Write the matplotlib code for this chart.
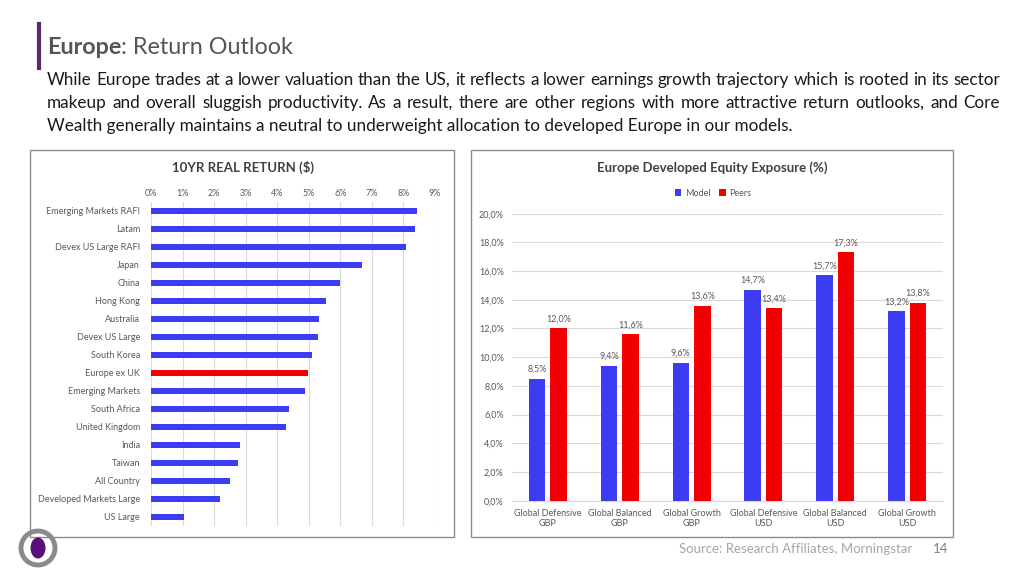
import numpy as np
import matplotlib
matplotlib.use("Agg")
import matplotlib.pyplot as plt
from matplotlib.patches import Rectangle, Ellipse
from matplotlib.lines import Line2D

# ---- data ----
regions = ["Emerging Markets RAFI", "Latam", "Devex US Large RAFI", "Japan", "China",
           "Hong Kong", "Australia", "Devex US Large", "South Korea", "Europe ex UK",
           "Emerging Markets", "South Africa", "United Kingdom", "India", "Taiwan",
           "All Country", "Developed Markets Large", "US Large"]
real_return = [8.43, 8.38, 8.08, 6.69, 5.99, 5.55, 5.32, 5.30, 5.09, 4.96,
               4.89, 4.36, 4.28, 2.81, 2.76, 2.50, 2.20, 1.05]
highlight = "Europe ex UK"

portfolios = ["Global Defensive\nGBP", "Global Balanced\nGBP", "Global Growth\nGBP",
              "Global Defensive\nUSD", "Global Balanced\nUSD", "Global Growth\nUSD"]
model = [8.5, 9.4, 9.6, 14.7, 15.7, 13.2]
peers = [12.0, 11.6, 13.6, 13.4, 17.3, 13.8]

BLUE = "#3c3cf2"
RED = "#f00000"
GREY = "#595959"
GRID = "#d9d9d9"
PURPLE = "#5a2a6e"

plt.rcParams["font.family"] = ["Lato", "DejaVu Sans"]

fig = plt.figure(figsize=(10.24, 5.76), dpi=100)
W, H = 1024, 576


def fx(px):
    return px / W


def fy(py):
    return 1 - py / H


def justified(words_line, x0, x1, y, **kw):
    # place words so the line fills x0..x1 (pixel coords)
    words = words_line.split()
    renderer = fig.canvas.get_renderer()
    arts = [fig.text(0, fy(y), w, va="center", **kw) for w in words]
    widths = [a.get_window_extent(renderer).width for a in arts]
    gap = (x1 - x0 - sum(widths)) / (len(words) - 1)
    pos = x0
    for a, w in zip(arts, widths):
        a.set_x(fx(pos))
        pos += w + gap


# ---- header ----
fig.add_artist(Line2D([fx(39), fx(39)], [fy(24), fy(68)], color=PURPLE, lw=3))
t = fig.text(fx(47), fy(48), "Europe", fontsize=16.8, fontweight="bold", color="#555555", va="center")
fig.canvas.draw()
bb = t.get_window_extent()
fig.text(bb.x1 / W, fy(48), ": Return Outlook", fontsize=16.8, color="#555555", va="center")

para = ["While Europe trades at a lower valuation than the US, it reflects a lower earnings growth trajectory which is rooted in its sector",
        "makeup and overall sluggish productivity. As a result, there are other regions with more attractive return outlooks, and Core",
        "Wealth generally maintains a neutral to underweight allocation to developed Europe in our models."]
pstyle = dict(fontsize=12.3, color="#1a1a1a")
justified(para[0], 47, 1000, 80, **pstyle)
justified(para[1], 47, 1000, 103, **pstyle)
fig.text(fx(47), fy(126), para[2], va="center", **pstyle)

# ---- panel boxes ----
for x0, x1 in [(30, 454), (471, 953)]:
    fig.add_artist(Rectangle((fx(x0), fy(537)), fx(x1 - x0), (537 - 150) / H,
                             fill=False, edgecolor="#8c8c8c", lw=1.0))

# ---- left chart ----
ax1 = fig.add_axes([fx(151), fy(526), fx(284), 324 / H])
ypos = np.arange(len(regions))
colors = [RED if r == highlight else BLUE for r in regions]
ax1.barh(ypos, real_return, height=0.32, color=colors, zorder=3)
ax1.set_ylim(len(regions) - 0.5, -0.5)
ax1.set_xlim(0, 9)
ax1.set_xticks(np.arange(0, 10))
ax1.set_xticklabels([f"{i}%" for i in range(10)])
ax1.xaxis.tick_top()
ax1.set_yticks(ypos)
ax1.set_yticklabels(regions)
ax1.tick_params(axis="both", length=0, labelsize=6.5, colors=GREY)
ax1.tick_params(axis="y", pad=8)
ax1.tick_params(axis="x", pad=3)
ax1.grid(axis="x", color=GRID, lw=0.8, zorder=0)
for s in ax1.spines.values():
    s.set_visible(False)
fig.text(fx(243), fy(167), "10YR REAL RETURN ($)", fontsize=9.5, fontweight="bold",
         color="#404040", ha="center", va="center")

# ---- right chart ----
ax2 = fig.add_axes([fx(512), fy(500.7), fx(431), 287 / H])
x = np.arange(len(portfolios))
bw = 0.23
b1 = ax2.bar(x - 0.15, model, width=bw, color=BLUE, zorder=3, label="Model")
b2 = ax2.bar(x + 0.15, peers, width=bw, color=RED, zorder=3, label="Peers")
for bars, vals in [(b1, model), (b2, peers)]:
    for b, v in zip(bars, vals):
        ax2.text(b.get_x() + b.get_width() / 2, v + 0.35, f"{v:.1f}%".replace(".", ","),
                 ha="center", va="bottom", fontsize=6.5, color=GREY)
ax2.set_xlim(-0.5, len(portfolios) - 0.5)
ax2.set_ylim(0, 20)
ax2.set_yticks(np.arange(0, 21, 2))
ax2.set_yticklabels([f"{v:.1f}%".replace(".", ",") for v in np.arange(0, 21, 2)])
ax2.set_xticks(x)
ax2.set_xticklabels(portfolios)
ax2.tick_params(axis="both", length=0, labelsize=6.5, colors=GREY)
ax2.tick_params(axis="y", pad=6)
ax2.tick_params(axis="x", pad=6)
ax2.grid(axis="y", color=GRID, lw=0.8, zorder=0)
for side in ["top", "right", "left"]:
    ax2.spines[side].set_visible(False)
ax2.spines["bottom"].set_color(GRID)
fig.text(fx(712), fy(168), "Europe Developed Equity Exposure (%)", fontsize=9.5,
         fontweight="bold", color="#404040", ha="center", va="center")
fig.legend(handles=[b1, b2], labels=["Model", "Peers"], loc="center",
           bbox_to_anchor=(fx(713), fy(193)), ncol=2, frameon=False, fontsize=6.5,
           handlelength=0.7, handleheight=0.7, columnspacing=1.0, handletextpad=0.4,
           labelcolor=GREY)

# ---- footer ----
fig.add_artist(Ellipse((fx(38), fy(548)), 34 / W, 34 / H, transform=fig.transFigure,
                       fill=False, edgecolor="#8a8a8a", lw=3.5))
fig.add_artist(Ellipse((fx(38), fy(548)), 15 / W, 21 / H, transform=fig.transFigure,
                       facecolor="#5a0f7a", edgecolor="none"))
fig.text(fx(912), fy(549), "Source: Research Affiliates, Morningstar", fontsize=9.5,
         color="#a6a6a6", ha="right", va="center")
fig.text(fx(933), fy(549), "14", fontsize=9.5, color="#7f7f7f", ha="left", va="center")

fig.savefig("out.png", dpi=100)
